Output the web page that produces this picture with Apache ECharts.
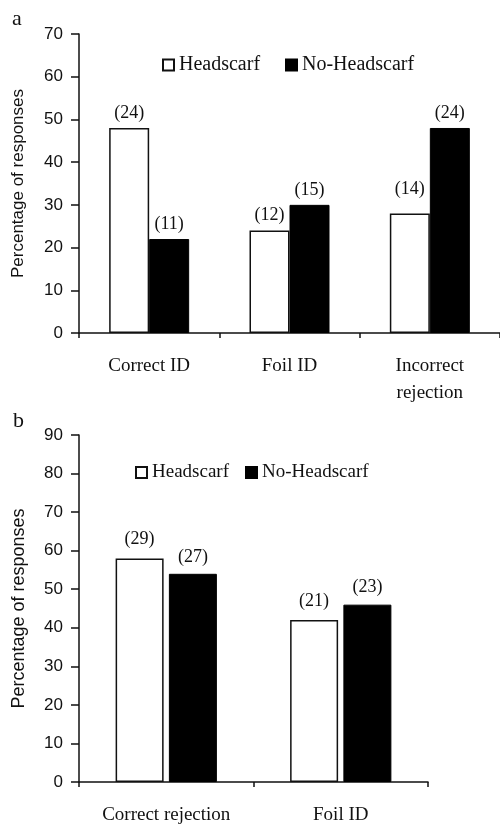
<!DOCTYPE html>
<html>
<head>
<meta charset="utf-8">
<script src="https://cdn.jsdelivr.net/npm/echarts@6/dist/echarts.min.js"></script>
<style>html,body{margin:0;padding:0;background:#fff;}#c{width:500px;height:829px;}</style>
</head>
<body>
<div id="c"></div>
<script>
// Panel a
var catsA = ['Correct ID', 'Foil ID', 'Incorrect\nrejection'];
var headA = [48, 24, 28];
var noHeadA = [22, 30, 48];
var headCountA = [24, 12, 14];
var noHeadCountA = [11, 15, 24];
var ticksA = [0, 10, 20, 30, 40, 50, 60, 70];
// Panel b
var catsB = ['Correct rejection', 'Foil ID'];
var headB = [58, 42];
var noHeadB = [54, 46];
var headCountB = [29, 21];
var noHeadCountB = [27, 23];
var ticksB = [0, 10, 20, 30, 40, 50, 60, 70, 80, 90];

var serif = 'Liberation Serif';
var sans = 'Liberation Sans';
var black = '#111';

function mkData(vals, counts, dist) {
  return vals.map(function (v, i) {
    var d = { value: v, count: counts[i] };
    if (dist && dist[i] != null) d.label = { distance: dist[i] };
    return d;
  });
}

function xAx(idx, cats) {
  return {
    type: 'category', gridIndex: idx, data: cats,
    axisLine: { lineStyle: { color: black, width: 1.5 } },
    axisTick: { show: true, length: 5, lineStyle: { color: black, width: 1.5 } },
    axisLabel: { color: black, fontFamily: serif, fontSize: 19, margin: 20, lineHeight: 27 }
  };
}
function yAx(idx, ticks, fs, nameFs, gap) {
  return {
    type: 'value', gridIndex: idx, min: ticks[0], max: ticks[ticks.length - 1], interval: ticks[1] - ticks[0],
    name: 'Percentage of responses', nameLocation: 'middle', nameRotate: 90, nameGap: gap,
    nameTextStyle: { color: black, fontFamily: sans, fontSize: nameFs },
    splitLine: { show: false },
    axisLine: { show: true, lineStyle: { color: black, width: 1.5 } },
    axisTick: { show: true, length: 8, lineStyle: { color: black, width: 1.5 } },
    axisLabel: { color: black, fontFamily: sans, fontSize: fs, margin: 16 }
  };
}
function lbl(dist) {
  return {
    show: true, position: 'top', distance: dist, color: black, fontFamily: serif, fontSize: 18,
    formatter: function (p) { return '(' + p.data.count + ')'; }
  };
}
function leg(left, top, name, fs) {
  return {
    left: left, top: top, data: [name], itemWidth: 11, itemHeight: 11, icon: 'rect',
    selectedMode: false, padding: 0,
    textStyle: { color: black, fontFamily: serif, fontSize: fs }
  };
}

var chart = echarts.init(document.getElementById('c'), null, { renderer: 'canvas' });
chart.setOption({
  animation: false,
  backgroundColor: '#fff',
  title: [
    { text: 'a', left: 12, top: 8, padding: 0, textStyle: { fontFamily: serif, fontSize: 22, fontWeight: 'normal', color: black } },
    { text: 'b', left: 13, top: 410, padding: 0, textStyle: { fontFamily: serif, fontSize: 22, fontWeight: 'normal', color: black } }
  ],
  legend: [
    leg(162, 55, 'Headscarf', 20),
    leg(285, 55, 'No-Headscarf', 20),
    leg(135, 463, 'Headscarf', 19),
    leg(245, 463, 'No-Headscarf', 19)
  ],
  grid: [
    { left: 79, top: 34, width: 424, height: 299 },
    { left: 79, top: 435, width: 349, height: 353 }
  ],
  xAxis: [xAx(0, catsA), xAx(1, catsB)],
  yAxis: [yAx(0, ticksA, 17, 17, 52), yAx(1, ticksB, 17, 18, 51)],
  series: [
    { name: 'Headscarf', type: 'bar', xAxisIndex: 0, yAxisIndex: 0, barWidth: 40, barGap: '0%',
      itemStyle: { color: '#fff', borderColor: black, borderWidth: 1.5 },
      label: lbl(6), data: mkData(headA, headCountA, [null, null, 15]) },
    { name: 'No-Headscarf', type: 'bar', xAxisIndex: 0, yAxisIndex: 0, barWidth: 40, barGap: '0%',
      itemStyle: { color: '#000', borderColor: '#000', borderWidth: 1 },
      label: lbl(6), data: mkData(noHeadA, noHeadCountA) },
    { name: 'Headscarf', type: 'bar', xAxisIndex: 1, yAxisIndex: 1, barWidth: 48, barGap: '11%',
      itemStyle: { color: '#fff', borderColor: black, borderWidth: 1.5 },
      label: lbl(10), data: mkData(headB, headCountB) },
    { name: 'No-Headscarf', type: 'bar', xAxisIndex: 1, yAxisIndex: 1, barWidth: 48, barGap: '11%',
      itemStyle: { color: '#000', borderColor: '#000', borderWidth: 1 },
      label: lbl(8), data: mkData(noHeadB, noHeadCountB) }
  ]
});
</script>
</body>
</html>
